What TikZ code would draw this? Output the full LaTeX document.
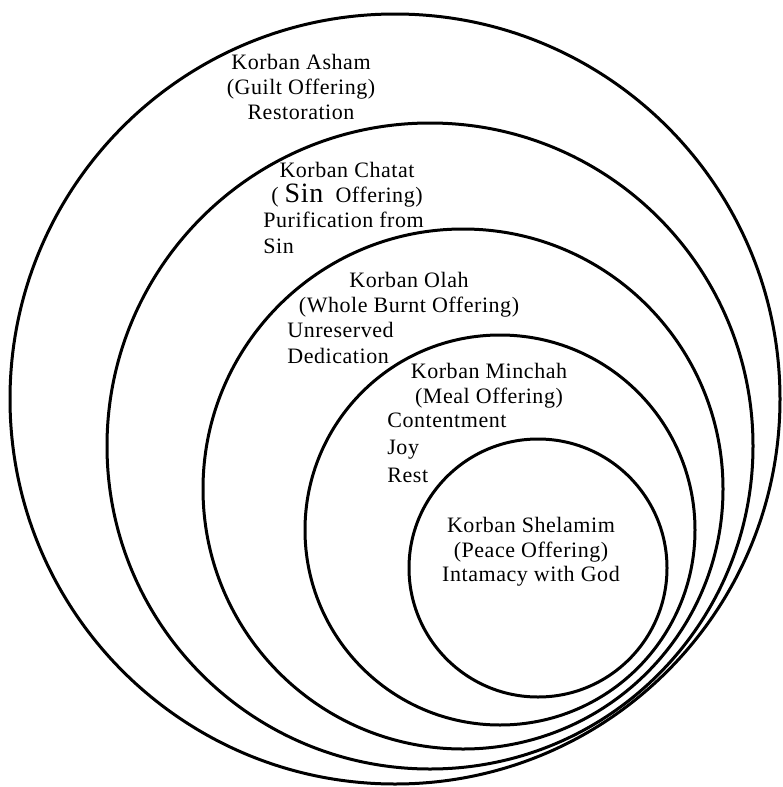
\documentclass[tikz,border=0pt]{standalone}
\usepackage{fontspec}
\setmainfont[LetterSpace=2.5]{Liberation Serif}
\usepackage{tikz}
\usetikzlibrary{positioning}

\begin{document}
\begin{tikzpicture}[x=0.5pt, y=-0.5pt,
  ring/.style={draw=black, line width=1.5pt},
  every node/.style={font=\fontsize{11}{12.3}\selectfont, inner sep=0pt},
  title/.style={align=center},
  desc/.style={align=left, anchor=west, font=\fontsize{11}{13.3}\selectfont}]
  \useasboundingbox (0,0) rectangle (782,787);
  % nested offerings, outermost first
  \foreach \cx/\cy/\r in {395/399/385, 430/446/323, 463/489/260, 500/530/195, 538/568/129}
    \draw[ring] (\cx,\cy) circle[radius=\r*0.5pt];
  \node[title] (asham) at (301,87) {Korban Asham\\(Guilt Offering)\\Restoration};
  \node[title] (chatat) at (347,185) {Korban Chatat\\( {\fontsize{14}{12.3}\selectfont Sin}\ \ Offering)};
  \node[desc] (chatatdesc) at (263,233) {Purification from\\Sin};
  \node[title] (olah) at (409,294.5) {Korban Olah\\(Whole Burnt Offering)};
  \node[desc] (olahdesc) at (287,343) {Unreserved\\Dedication};
  \node[title] (minchah) at (489,385.5) {Korban Minchah\\(Meal Offering)};
  \node[desc, font=\fontsize{11}{13.7}\selectfont] (minchahdesc) at (387,447.5) {Contentment\\Joy\\Rest};
  \node[title] (shelamim) at (531,552) {Korban Shelamim\\(Peace Offering)\\Intamacy with God};
\end{tikzpicture}
\end{document}
